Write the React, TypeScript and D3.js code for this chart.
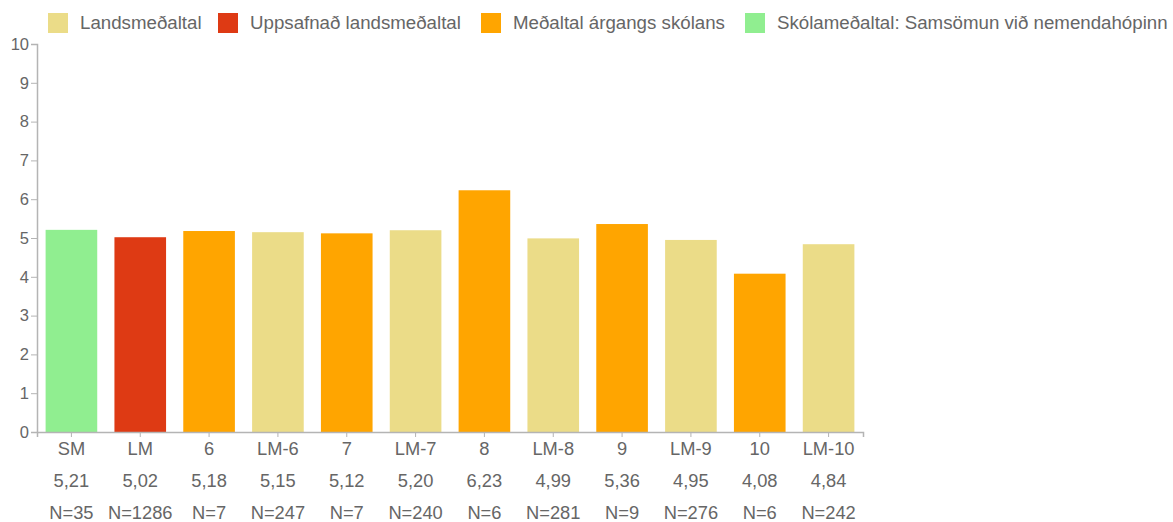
import React, { useRef, useEffect } from "react"
import * as d3 from "d3"

// categories along x, the mean shown as bar height, and the N under each bar
const categories = ["SM", "LM", "6", "LM-6", "7", "LM-7", "8", "LM-8", "9", "LM-9", "10", "LM-10"]
const values = [5.21, 5.02, 5.18, 5.15, 5.12, 5.2, 6.23, 4.99, 5.36, 4.95, 4.08, 4.84]
const counts = [35, 1286, 7, 247, 7, 240, 6, 281, 9, 276, 6, 242]
// which legend entry each bar belongs to
const groups = [3, 1, 2, 0, 2, 0, 2, 0, 2, 0, 2, 0]
const legendLabels = [
  "Landsmeðaltal",
  "Uppsafnað landsmeðaltal",
  "Meðaltal árgangs skólans",
  "Skólameðaltal: Samsömun við nemendahópinn",
]
const legendColors = ["#ebdc88", "#de3a14", "#ffa500", "#90ee90"]
const yTicks = [0, 1, 2, 3, 4, 5, 6, 7, 8, 9, 10]

const width = 1173
const height = 522
const margin = { left: 37, right: 310, top: 44, bottom: 90 }
const font = "'Liberation Sans', Arial, sans-serif"
const textColor = "#666"
const axisColor = "#b4b4b4"
const fontSize = 18.3

const App = () => {
  const ref = useRef<SVGSVGElement>(null)

  useEffect(() => {
    const svg = d3.select(ref.current)
    svg.selectAll("*").remove()

    const x = d3.scaleBand()
      .domain(categories)
      .range([margin.left, width - margin.right])
      .paddingInner(0.25)
      .paddingOuter(0.125)

    const y = d3.scaleLinear()
      .domain([0, 10])
      .range([height - margin.bottom, margin.top])

    // legend
    const legendX = [48, 218, 481, 745]
    const legend = svg.append("g")
    legendLabels.forEach((label, i) => {
      legend.append("rect")
        .attr("x", legendX[i]).attr("y", 13)
        .attr("width", 20).attr("height", 20)
        .attr("fill", legendColors[i])
      legend.append("text")
        .attr("x", legendX[i] + 32).attr("y", 29)
        .attr("font-family", font).attr("font-size", 18.7)
        .attr("fill", textColor)
        .text(label)
    })

    // bars
    svg.append("g")
      .selectAll("rect")
      .data(values)
      .join("rect")
        .attr("x", (d, i) => x(categories[i]))
        .attr("y", d => y(d))
        .attr("width", x.bandwidth())
        .attr("height", d => y(0) - y(d))
        .attr("fill", (d, i) => legendColors[groups[i]])

    // y axis
    const yAxis = svg.append("g")
      .attr("transform", `translate(${margin.left},0)`)
      .call(d3.axisLeft(y).tickValues(yTicks).tickSize(6).tickPadding(2))
    yAxis.select(".domain").attr("stroke", axisColor).attr("stroke-width", 1.5)
    yAxis.selectAll(".tick line").attr("stroke", axisColor)
    yAxis.selectAll(".tick text")
      .attr("font-family", font).attr("font-size", 16.5).attr("fill", textColor)

    // x axis
    const xAxis = svg.append("g")
      .attr("transform", `translate(0,${y(0)})`)
      .call(d3.axisBottom(x).tickSizeOuter(0).tickSize(5).tickPadding(5))
    xAxis.select(".domain").attr("stroke", axisColor).attr("stroke-width", 1.5)
    xAxis.selectAll(".tick line").attr("stroke", axisColor)
    xAxis.selectAll(".tick text")
      .attr("font-family", font).attr("font-size", fontSize).attr("fill", textColor)

    // value and N rows under the categories
    const fmt = (v: number) => v.toFixed(2).replace(".", ",")
    svg.append("g")
      .selectAll("text")
      .data(values)
      .join("text")
        .attr("x", (d, i) => x(categories[i])! + x.bandwidth() / 2)
        .attr("y", 487)
        .attr("text-anchor", "middle")
        .attr("font-family", font).attr("font-size", fontSize)
        .attr("fill", textColor)
        .text(d => fmt(d))

    svg.append("g")
      .selectAll("text")
      .data(counts)
      .join("text")
        .attr("x", (d, i) => x(categories[i])! + x.bandwidth() / 2)
        .attr("y", 519)
        .attr("text-anchor", "middle")
        .attr("font-family", font).attr("font-size", fontSize)
        .attr("fill", textColor)
        .text(d => "N=" + d)
  }, [])

  return (
    <svg ref={ref} width={width} height={height}
      style={{ position: "absolute", left: 0, top: 0 }} />
  )
}

export default App
